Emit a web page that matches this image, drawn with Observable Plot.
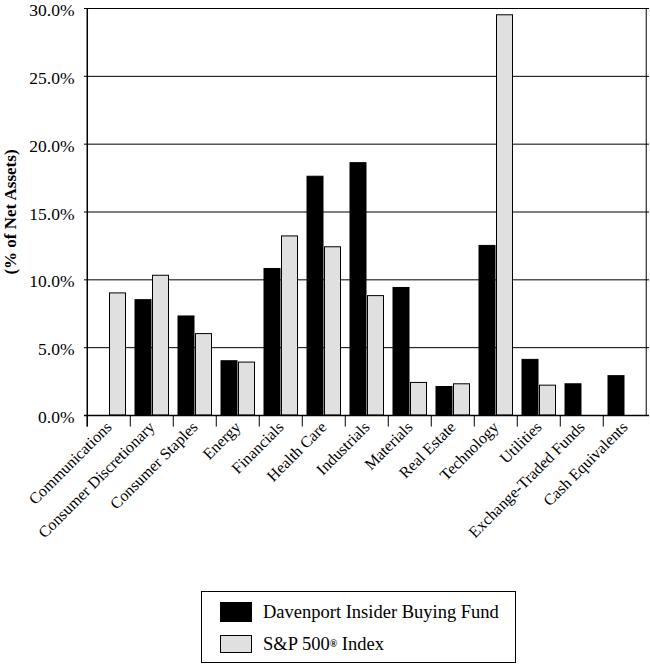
<!DOCTYPE html>
<html>
<head>
<meta charset="utf-8">
<script src="https://cdn.jsdelivr.net/npm/d3@7"></script>
<script src="https://cdn.jsdelivr.net/npm/@observablehq/plot@0.6"></script>
<style>
  html, body { margin: 0; padding: 0; background: white; font-family: "Liberation Serif", serif; }
  #wrap { position: relative; width: 650px; height: 665px; }
  #legend { position: absolute; left: 201px; top: 591px; width: 315px; height: 72px; border: 1px solid #000; box-sizing: border-box; font-family: "Liberation Serif", serif; }
  .item { position: absolute; left: 18px; display: flex; align-items: center; font-size: 18.5px; line-height: 20px; color: #000; font-family: "Liberation Serif", serif; white-space: nowrap; }
  .sw { width: 32px; height: 20px; box-sizing: border-box; border: 1px solid #000; margin-right: 11px; }
  sup { font-size: 10px; vertical-align: 7px; line-height: 0; font-weight: bold; }
</style>
</head>
<body>
<div id="wrap">
  <div id="chart"></div>
  <div id="legend">
    <div class="item" style="top: 10px;"><div class="sw" style="background:#000"></div>Davenport Insider Buying Fund</div>
    <div class="item" style="top: 42px;"><div class="sw" style="background:#e0e0e0; height: 18px;"></div>S&amp;P 500<sup>®</sup>&nbsp;Index</div>
  </div>
</div>
<script>
const categories = ["Communications", "Consumer Discretionary", "Consumer Staples", "Energy", "Financials", "Health Care", "Industrials", "Materials", "Real Estate", "Technology", "Utilities", "Exchange-Traded Funds", "Cash Equivalents"];
const fundValues = [null, 8.5, 7.3, 4.0, 10.8, 17.6, 18.6, 9.4, 2.1, 12.5, 4.1, 2.3, 2.9];
const spValues = [9.0, 10.3, 6.0, 3.9, 13.2, 12.4, 8.8, 2.4, 2.3, 29.5, 2.2, null, null];
const yTicks = [0, 5, 10, 15, 20, 25, 30];
const yLabel = "(% of Net Assets)";

const W = 650, ML = 84, MR = 1;
const bw = (W - ML - MR) / categories.length;

const fundRows = categories.map((c, i) => ({category: c, value: fundValues[i]})).filter(d => d.value != null);
const spRows = categories.map((c, i) => ({category: c, value: spValues[i]})).filter(d => d.value != null);

const chart = Plot.plot({
  width: W,
  height: 585,
  marginTop: 8,
  marginBottom: 170,
  marginLeft: ML,
  marginRight: MR,
  style: {fontFamily: "Liberation Serif", fontSize: "16px", background: "white", color: "black", overflow: "visible"},
  x: {domain: categories, padding: 0, tickRotate: -45, tickSize: 0, tickPadding: 9, label: null},
  y: {domain: [0, 30], axis: null},
  marks: [
    Plot.ruleY(yTicks.filter(d => d > 0), {stroke: "#000", strokeWidth: 1}),
    Plot.barY(fundRows, {x: "category", y: "value", fill: "#000", stroke: "#000", insetLeft: 5, insetRight: 22}),
    Plot.barY(spRows, {x: "category", y: "value", fill: "#e0e0e0", stroke: "#000", insetLeft: 22.5, insetRight: 4.5}),
    Plot.ruleY([0], {stroke: "#000", strokeWidth: 1.5}),
    Plot.ruleX(categories, {x: d => d, dx: -bw / 2, y1: -0.85, y2: 0, stroke: "#000"}),
    Plot.ruleX([categories[0]], {x: d => d, dx: -bw / 2, y1: -0.85, y2: 30, stroke: "#000", strokeWidth: 1.5}),
    Plot.ruleX([categories[categories.length - 1]], {x: d => d, dx: bw / 2 - 0.5, y1: 0, y2: 30, stroke: "#000"}),
    Plot.text(yTicks, {y: d => d, frameAnchor: "left", text: d => d.toFixed(1) + "%", dx: -10, dy: 2, textAnchor: "end", fontSize: 17.5}),
    Plot.text([yLabel], {frameAnchor: "left", dx: -74, rotate: -90, textAnchor: "middle", fontWeight: "bold", fontSize: 17, text: d => d})
  ]
});
document.getElementById("chart").appendChild(chart);
</script>
</body>
</html>
